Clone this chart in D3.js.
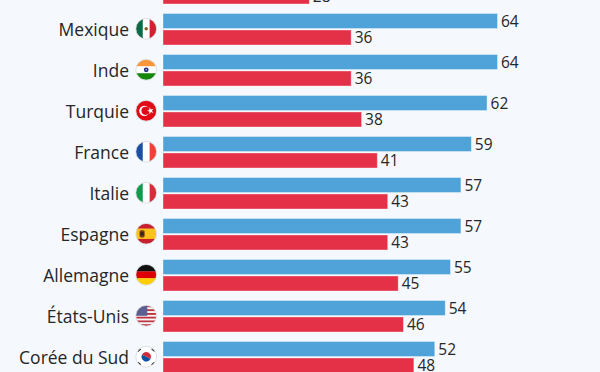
<!DOCTYPE html>
<html>
<head>
	<meta charset="utf-8">
	<title></title>
	<style type="text/css">
		html,body {
			padding: 0;
			margin: 0;
			background: #f5f9fd;
			overflow: hidden;
		}
		svg {
			display: block;
			font-family: "Open Sans", sans-serif;
		}
	</style>
</head>
<body>
	<div class="g-chart"></div>

	<script src="https://cdnjs.cloudflare.com/ajax/libs/d3/7.8.5/d3.min.js"></script>
	<script type="text/javascript">

		// first row is cut off by the picture, only its red bar shows
		let countries = ["", "Mexique", "Inde", "Turquie", "France", "Italie", "Espagne", "Allemagne", "États-Unis", "Corée du Sud"];
		let flags = ["", "mx", "in", "tr", "fr", "it", "es", "de", "us", "kr"];
		let blueValues = [72, 64, 64, 62, 59, 57, 57, 55, 54, 52];
		let redValues = [28, 36, 36, 38, 41, 43, 43, 45, 46, 48];
		let seriesNames = ["blue", "red"];
		let colors = {blue: "#4fa3d8", red: "#e53148"};

		let width = 600;
		let height = 372;

		let svg = d3.select(".g-chart").append("svg").attr("width", width).attr("height", height);

		let x = d3.scaleLinear().domain([0, 64]).range([163, 497.5]);
		let y = d3.scaleBand().domain(countries).range([-32.5, 377.5]);
		let inner = d3.scaleBand().domain(seriesNames).range([5, 36.5]).paddingInner(0.09);

		let rows = svg.selectAll("g.row")
			.data(countries)
			.enter()
			.append("g")
			.attr("class", "row")
			.attr("transform", d => `translate(0,${y(d)})`);

		seriesNames.forEach(function(name){
			let values = name == "blue" ? blueValues : redValues;

			rows.append("rect")
				.attr("x", x(0))
				.attr("y", inner(name))
				.attr("width", (d,i) => x(values[i]) - x(0))
				.attr("height", inner.bandwidth())
				.attr("fill", colors[name])
				.attr("stroke", "#fff")
				.attr("stroke-opacity", 0.45)
				.attr("stroke-width", 0.8);

			rows.append("text")
				.attr("x", (d,i) => x(values[i]) + 3.5)
				.attr("y", inner(name) + inner.bandwidth() / 2)
				.attr("dy", "0.36em")
				.attr("font-size", 15.5)
				.attr("fill", "#262626")
				.text((d,i) => values[i]);
		});

		rows.append("text")
			.attr("x", 129)
			.attr("y", 21.2)
			.attr("dy", "0.36em")
			.attr("text-anchor", "end")
			.attr("font-size", 17.5)
			.attr("fill", "#262626")
			.text(d => d);

		// flags, size relative to the circle (r = 10)
		function stripes(g, list, vertical) {
			let band = d3.scaleBand().domain(d3.range(list.length)).range([-10, 10]);
			list.forEach(function(c, i){
				g.append("rect")
					.attr("x", vertical ? band(i) : -10)
					.attr("y", vertical ? -10 : band(i))
					.attr("width", vertical ? band.bandwidth() + 0.2 : 20)
					.attr("height", vertical ? 20 : band.bandwidth() + 0.2)
					.attr("fill", c);
			});
		}

		let drawFlag = {
			mx: function(g) {
				stripes(g, ["#0a6b48", "#fff", "#d2202f"], true);
				g.append("circle").attr("r", 1.7).attr("fill", "#8a5a2b");
			},
			in: function(g) {
				stripes(g, ["#f9973a", "#fff", "#15880c"], false);
				g.append("circle").attr("r", 2.3).attr("fill", "#1f2a78");
				g.append("circle").attr("r", 0.8).attr("fill", "#cfd3ea");
			},
			tr: function(g) {
				stripes(g, ["#e30a17"], false);
				g.append("circle").attr("cx", -1.8).attr("r", 5).attr("fill", "#fff");
				g.append("circle").attr("cx", -0.6).attr("r", 4).attr("fill", "#e30a17");
				g.append("path")
					.attr("d", d3.symbol(d3.symbolStar, 14))
					.attr("transform", "translate(4.2,0) rotate(-18)")
					.attr("fill", "#fff");
			},
			fr: g => stripes(g, ["#1c4fa3", "#fff", "#ef4135"], true),
			it: g => stripes(g, ["#109a4e", "#fff", "#d22f3a"], true),
			es: function(g) {
				stripes(g, ["#c8202f", "#fbc31b", "#fbc31b", "#c8202f"], false);
				g.append("rect").attr("x", -6.5).attr("y", -3.5).attr("width", 5).attr("height", 7).attr("rx", 1.5).attr("fill", "#7c3a1d");
				g.append("rect").attr("x", -5.5).attr("y", -1.5).attr("width", 3).attr("height", 3).attr("fill", "#2b2320");
			},
			de: g => stripes(g, ["#111", "#dd0000", "#ffce00"], false),
			us: function(g) {
				stripes(g, ["#c0313f", "#f4f4f4", "#c0313f", "#f4f4f4", "#c0313f", "#f4f4f4", "#c0313f", "#f4f4f4", "#c0313f", "#f4f4f4", "#c0313f"], false);
				g.append("rect").attr("x", -10).attr("y", -10).attr("width", 11).attr("height", 10).attr("fill", "#5a5f92");
			},
			kr: function(g) {
				stripes(g, ["#fff"], false);
				g.append("path").attr("d", d3.arc()({innerRadius: 0, outerRadius: 4.6, startAngle: -1.1, endAngle: 2.04})).attr("fill", "#cd2e3a");
				g.append("path").attr("d", d3.arc()({innerRadius: 0, outerRadius: 4.6, startAngle: 2.04, endAngle: 5.18})).attr("fill", "#0f4fa3");
				[[-1, -1], [1, -1], [-1, 1], [1, 1]].forEach(function(c){
					g.append("line")
						.attr("x1", c[0] * 5.5).attr("y1", c[1] * 8)
						.attr("x2", c[0] * 8.5).attr("y2", c[1] * 5.5)
						.attr("stroke", "#222")
						.attr("stroke-width", 2);
				});
			}
		};

		svg.append("defs").append("clipPath").attr("id", "flag-clip").append("circle").attr("r", 10.3);

		rows.filter((d,i) => flags[i] != "").each(function(d){
			let code = flags[countries.indexOf(d)];
			let g = d3.select(this).append("g").attr("transform", "translate(146.2,20.3)");
			drawFlag[code](g.append("g").attr("clip-path", "url(#flag-clip)").append("g").attr("transform", "scale(1.03)"));
			g.append("circle").attr("r", 10.4).attr("fill", "none").attr("stroke", "#d5d8dc").attr("stroke-width", 0.8);
		});

	</script>
</body>
</html>
